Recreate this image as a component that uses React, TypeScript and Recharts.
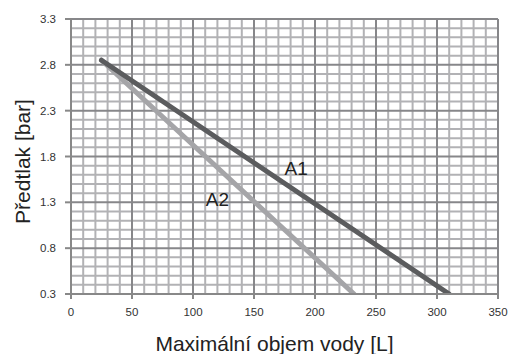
import { LineChart, Line, XAxis, YAxis, ReferenceLine, ReferenceDot } from 'recharts';

// x ticks (L) and y ticks (bar)
const xTicks = [0, 50, 100, 150, 200, 250, 300, 350];
const yTicks = [0.3, 0.8, 1.3, 1.8, 2.3, 2.8, 3.3];
const xMinor = [10, 20, 30, 40, 60, 70, 80, 90, 110, 120, 130, 140, 160, 170, 180, 190, 210, 220, 230, 240, 260, 270, 280, 290, 310, 320, 330, 340];
const yMinor = [0.4, 0.5, 0.6, 0.7, 0.9, 1.0, 1.1, 1.2, 1.4, 1.5, 1.6, 1.7, 1.9, 2.0, 2.1, 2.2, 2.4, 2.5, 2.6, 2.7, 2.9, 3.0, 3.1, 3.2];

const a1 = [
  { x: 25, y: 2.85 },
  { x: 310, y: 0.3 },
];
const a2 = [
  { x: 25, y: 2.85 },
  { x: 232, y: 0.3 },
];

const font = 'Liberation Sans, Arial, sans-serif';
const tickFont = { fill: '#333', fontSize: 11.5, fontFamily: font };

export default function App() {
  return (
    <div style={{ position: 'fixed', left: 0, top: 0, width: 509, height: 354, background: '#fff' }}>
      <LineChart width={509} height={354} margin={{ top: 19, right: 11, bottom: 0, left: 0 }}>
        <XAxis
          type="number"
          dataKey="x"
          domain={[0, 350]}
          ticks={xTicks}
          allowDataOverflow
          tick={tickFont}
          tickSize={5}
          tickMargin={9}
          axisLine={{ stroke: '#888', strokeWidth: 2 }}
          tickLine={{ stroke: '#888', strokeWidth: 2 }}
          height={60}
          label={{ value: 'Maximální objem vody [L]', position: 'insideBottom', offset: 3, dx: -10, style: { fill: '#222', fontSize: 21, fontFamily: font } }}
        />
        <YAxis
          type="number"
          domain={[0.3, 3.3]}
          ticks={yTicks}
          allowDataOverflow
          tick={tickFont}
          tickSize={6}
          tickMargin={9}
          tickFormatter={(v: number) => v.toFixed(1)}
          axisLine={{ stroke: '#888', strokeWidth: 2 }}
          tickLine={{ stroke: '#888', strokeWidth: 2 }}
          width={71}
          label={{ value: 'Předtlak [bar]', angle: -90, position: 'insideLeft', offset: 23, dy: 5, style: { fill: '#222', fontSize: 21, fontFamily: font, textAnchor: 'middle' } }}
        />
        {xMinor.map(v => (
          <ReferenceLine key={'xm' + v} x={v} stroke="#b2b2b5" strokeWidth={2} />
        ))}
        {yMinor.map(v => (
          <ReferenceLine key={'ym' + v} y={v} stroke="#b2b2b5" strokeWidth={2} />
        ))}
        {xTicks.slice(1).map(v => (
          <ReferenceLine key={'xM' + v} x={v} stroke="#87878a" strokeWidth={2} />
        ))}
        {yTicks.slice(1).map(v => (
          <ReferenceLine key={'yM' + v} y={v} stroke="#87878a" strokeWidth={2} />
        ))}
        <Line data={a2} dataKey="y" type="linear" stroke="#a5a5a8" strokeWidth={5} strokeLinecap="round" dot={false} isAnimationActive={false} />
        <Line data={a1} dataKey="y" type="linear" stroke="#5b5c5e" strokeWidth={5} strokeLinecap="round" dot={false} isAnimationActive={false} />
        <ReferenceDot x={184.5} y={1.67} r={0} fill="none" stroke="none" label={{ value: 'A1', position: 'center', style: { fill: '#222', fontSize: 19, fontFamily: font } }} />
        <ReferenceDot x={120} y={1.33} r={0} fill="none" stroke="none" label={{ value: 'A2', position: 'center', style: { fill: '#222', fontSize: 19, fontFamily: font } }} />
      </LineChart>
    </div>
  );
}
